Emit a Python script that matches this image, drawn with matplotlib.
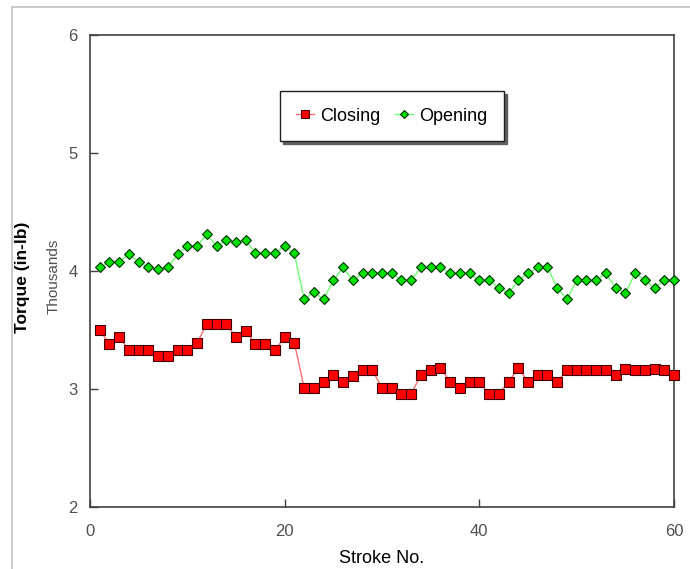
import matplotlib.pyplot as plt
from matplotlib.patches import Rectangle

plt.rcParams['font.family'] = ['Liberation Sans', 'DejaVu Sans']

# stroke number 1..60, torque in thousands of in-lb
strokes = list(range(1, 61))
closing = [3.50, 3.38, 3.44, 3.33, 3.33, 3.33, 3.28, 3.28, 3.33, 3.33,
           3.39, 3.55, 3.55, 3.55, 3.44, 3.49, 3.38, 3.38, 3.33, 3.44,
           3.39, 3.01, 3.01, 3.06, 3.12, 3.06, 3.11, 3.16, 3.16, 3.01,
           3.01, 2.96, 2.96, 3.12, 3.16, 3.18, 3.06, 3.01, 3.06, 3.06,
           2.96, 2.96, 3.06, 3.18, 3.06, 3.12, 3.12, 3.06, 3.16, 3.16,
           3.16, 3.16, 3.16, 3.12, 3.17, 3.16, 3.16, 3.17, 3.16, 3.12]
opening = [4.03, 4.08, 4.08, 4.14, 4.08, 4.03, 4.02, 4.03, 4.14, 4.21,
           4.21, 4.31, 4.21, 4.26, 4.25, 4.26, 4.15, 4.15, 4.15, 4.21,
           4.15, 3.76, 3.82, 3.76, 3.92, 4.03, 3.92, 3.98, 3.98, 3.98,
           3.98, 3.92, 3.92, 4.03, 4.03, 4.03, 3.98, 3.98, 3.98, 3.92,
           3.92, 3.86, 3.81, 3.92, 3.98, 4.03, 4.03, 3.86, 3.76, 3.92,
           3.92, 3.92, 3.98, 3.86, 3.81, 3.98, 3.92, 3.86, 3.92, 3.92]

fig = plt.figure(figsize=(6.9, 5.69), dpi=100)
# light grey outer frame (only top and left visible)
fig.patches.append(Rectangle((12 / 690, -0.1), 1.2, 1.1 - 7 / 569,
                             transform=fig.transFigure, fill=False,
                             edgecolor='#c0c0c0', linewidth=1.2))

ax = fig.add_axes([90 / 690, 1 - 507 / 569, 584 / 690, 472 / 569])

ax.plot(strokes, closing, color='#ff7070', linewidth=1, marker='s',
        markersize=7, markerfacecolor='#ff0000', markeredgecolor='#400000',
        markeredgewidth=0.8, label='Closing', clip_on=False, zorder=3)
ax.plot(strokes, opening, color='#70ff70', linewidth=1, marker='D',
        markersize=5.5, markerfacecolor='#00e000', markeredgecolor='#003000',
        markeredgewidth=0.8, label='Opening', clip_on=False, zorder=3)

ax.set_xlim(0, 60)
ax.set_ylim(2, 6)
ax.set_xticks([0, 20, 40, 60])
ax.set_yticks([2, 3, 4, 5, 6])
ax.tick_params(direction='in', length=6, width=1, color='#404040',
               labelcolor='#505050', labelsize=12)
ax.tick_params(axis='y', pad=9)
ax.tick_params(axis='x', pad=12)
for s in ax.spines.values():
    s.set_color('#404040')
    s.set_linewidth(1.2)

ax.set_xlabel('Stroke No.', fontsize=13, labelpad=8)
fig.text(23 / 690, 1 - 277 / 569, 'Torque (in-lb)', rotation=90,
         fontsize=12.5, fontweight='bold', ha='center', va='center')
fig.text(54 / 690, 1 - 276 / 569, 'Thousands', rotation=90,
         fontsize=11, color='#505050', ha='center', va='center')

leg = ax.legend(loc='center', bbox_to_anchor=(0.517, 0.828), ncol=2,
                fancybox=False, shadow={'color': '#606060', 'alpha': 1},
                fontsize=13, handlelength=1.0, handletextpad=0.35,
                columnspacing=0.8, borderpad=0.9, markerscale=0.8)
leg.get_frame().set_edgecolor('#202020')
leg.get_frame().set_linewidth(1)

fig.savefig('out.png', dpi=100)
